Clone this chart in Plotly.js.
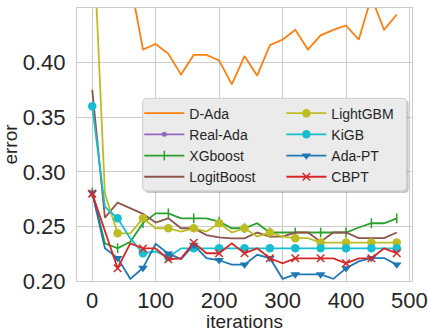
<!DOCTYPE html>
<html><head><meta charset="utf-8">
<script src="https://cdn.plot.ly/plotly-3.0.1.min.js"></script>
<style>html,body{margin:0;padding:0;background:#fff;}#chart{width:428px;height:332px;}</style>
</head><body><div id="chart"></div>
<script>
// ---- data ----
const iterations = [0,20,40,60,80,100,120,140,160,180,200,220,240,260,280,300,320,340,360,380,400,420,440,460,480];
const dAda      = [0.62,0.53,0.49,0.474,0.412,0.417,0.408,0.389,0.407,0.407,0.402,0.380,0.406,0.388,0.416,0.421,0.430,0.412,0.425,0.430,0.434,0.421,0.460,0.430,0.444];
const realAda   = [0.58,0.52,0.50,0.49,0.48,0.485,0.48,0.478,0.482,0.48,0.476,0.479,0.48,0.477,0.478,0.476,0.479,0.477,0.475,0.478,0.476,0.477,0.475,0.476,0.477];
const xgboost   = [0.281,0.2345,0.230,0.236,0.253,0.262,0.262,0.2574,0.2574,0.2574,0.2544,0.2483,0.2483,0.2529,0.2444,0.2444,0.2444,0.2444,0.2444,0.2444,0.2444,0.249,0.2529,0.2529,0.2574];
const logitBoost= [0.375,0.258,0.2718,0.2666,0.2615,0.2535,0.2574,0.2483,0.2483,0.242,0.240,0.2391,0.2391,0.2444,0.2407,0.2407,0.2444,0.2444,0.236,0.2444,0.2444,0.2392,0.2392,0.2392,0.2444];
const lightGBM  = [0.54,0.28,0.2437,0.2437,0.2574,0.2483,0.2483,0.2453,0.2483,0.2453,0.2529,0.2444,0.2483,0.2407,0.2444,0.2407,0.2392,0.2392,0.2352,0.2352,0.2352,0.2352,0.2352,0.2352,0.2352];
const kigb      = [0.36,0.268,0.2574,0.239,0.2254,0.227,0.2217,0.2299,0.2299,0.2299,0.2299,0.2299,0.2299,0.2299,0.2299,0.2299,0.2299,0.2299,0.2299,0.2299,0.2299,0.2299,0.2299,0.2299,0.2299];
const adaPT     = [0.281,0.230,0.221,0.202,0.212,0.234,0.225,0.220,0.233,0.221,0.219,0.215,0.215,0.224,0.221,0.202,0.206,0.206,0.206,0.202,0.2116,0.218,0.221,0.221,0.215];
const cbpt      = [0.280,0.246,0.2117,0.2345,0.2298,0.2298,0.2199,0.2208,0.2351,0.2254,0.2254,0.2345,0.2254,0.2299,0.2208,0.2162,0.2208,0.2208,0.2208,0.2208,0.2162,0.2208,0.2208,0.2299,0.2254];
const xTicks = [0,100,200,300,400,500];
const yTicks = [0.20,0.25,0.30,0.35,0.40,0.45];

// ---- traces ----
function everyOther(color){ return iterations.map((v,i)=> i%2===0 ? color : 'rgba(0,0,0,0)'); }
function mk(name, y, color, symbol, size, open, legend){
  const t = {x: iterations, y: y, name: name, type:'scatter', legend: legend,
    line:{color: color, width: 1.8}, mode: symbol ? 'lines+markers' : 'lines'};
  if(symbol){
    t.marker = {symbol: symbol, size: size, color: everyOther(color),
      line: {width: open ? 1.5 : 0, color: everyOther(color)}};
  }
  return t;
}
const traces = [
  mk('D-Ada', dAda, '#ff7f0e', null, 0, false, 'legend'),
  mk('Real-Ada', realAda, '#9467bd', 'circle', 5, false, 'legend'),
  mk('XGboost', xgboost, '#2ca02c', 'line-ns-open', 7, true, 'legend'),
  mk('LogitBoost', logitBoost, '#8c564b', null, 0, false, 'legend'),
  mk('LightGBM', lightGBM, '#bcbd22', 'circle', 8.5, false, 'legend2'),
  mk('KiGB', kigb, '#17becf', 'circle', 8.5, false, 'legend2'),
  mk('Ada-PT', adaPT, '#1f77b4', 'triangle-down', 8.5, false, 'legend2'),
  mk('CBPT', cbpt, '#d62728', 'x-thin-open', 7.5, true, 'legend2')
];

const FONT = 'Liberation Sans, Arial, sans-serif';
const TXT = '#262626';
function rr(x0,y0,x1,y1,rx,ry){
  return `M${x0+rx},${y0} L${x1-rx},${y0} Q${x1},${y0} ${x1},${y0+ry} L${x1},${y1-ry} Q${x1},${y1} ${x1-rx},${y1} L${x0+rx},${y1} Q${x0},${y1} ${x0},${y1-ry} L${x0},${y0+ry} Q${x0},${y0} ${x0+rx},${y0} Z`;
}
const legFont = {family: FONT, size: 14, color: TXT};
const layout = {
  width: 428, height: 332,
  margin: {l: 77, r: 16, t: 8, b: 51},
  paper_bgcolor: '#fff', plot_bgcolor: '#fff',
  font: {family: FONT, color: TXT},
  xaxis: {range: [-24, 504], tickvals: xTicks, showgrid: true, gridcolor: '#cccccc', gridwidth: 1,
    showline: true, mirror: true, linecolor: '#cccccc', linewidth: 1, zeroline: false, ticks: '',
    tickfont: {family: FONT, size: 22, color: TXT},
    title: {text: 'iterations', font: {family: FONT, size: 19, color: TXT}, standoff: 3}},
  yaxis: {range: [0.2, 0.45], tickvals: yTicks, tickformat: '.2f', showgrid: true, gridcolor: '#cccccc', gridwidth: 1,
    showline: true, mirror: true, linecolor: '#cccccc', linewidth: 1, zeroline: false, ticks: '',
    ticklabelstandoff: 6,
    tickfont: {family: FONT, size: 22, color: TXT},
    title: {text: 'error', font: {family: FONT, size: 19, color: TXT}, standoff: 0}},
  legend: {x: 0.186, y: 0.672, xanchor: 'left', yanchor: 'top', bgcolor: 'rgba(0,0,0,0)', font: legFont, tracegroupgap: 0, itemwidth: 40},
  legend2: {x: 0.610, y: 0.672, xanchor: 'left', yanchor: 'top', bgcolor: 'rgba(0,0,0,0)', font: legFont, tracegroupgap: 0, itemwidth: 40},
  shapes: [
    {type: 'path', xref: 'paper', yref: 'paper', layer: 'above', path: rr(0.203, 0.322, 0.990, 0.662, 0.012, 0.015),
      fillcolor: 'rgba(0,0,0,0.22)', line: {width: 0}},
    {type: 'path', xref: 'paper', yref: 'paper', layer: 'above', path: rr(0.196, 0.330, 0.984, 0.669, 0.012, 0.015),
      fillcolor: '#ebebeb', line: {color: '#cccccc', width: 1}}
  ],
  showlegend: true
};
Plotly.newPlot('chart', traces, layout, {displayModeBar: false, staticPlot: true});
</script>
</body></html>
